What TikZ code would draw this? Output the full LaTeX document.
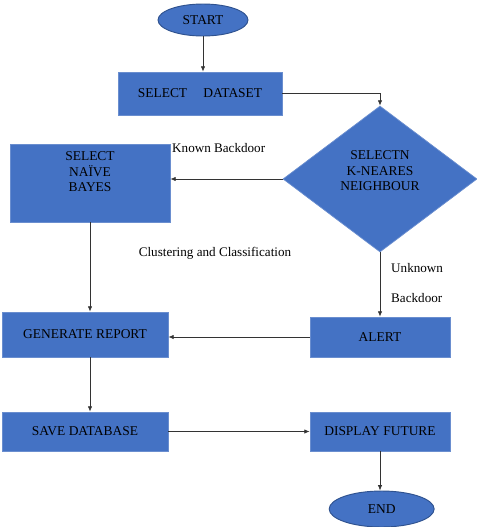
\documentclass[tikz,border=0pt]{standalone}
\usepackage{fontspec}
\setmainfont{Liberation Serif}
\usepackage{xcolor}
\usepackage{tikz}
\usetikzlibrary{arrows.meta,positioning,shapes}

\definecolor{boxfill}{HTML}{4472C4}
\definecolor{boxedge}{HTML}{6A8ECF}
\definecolor{ovaledge}{HTML}{2F528F}

\tikzset{
  procbox/.style={rectangle, fill=boxfill, draw=boxedge, line width=0.6pt, inner sep=0pt, align=center, font=\fontsize{11.5}{13.5}\selectfont},
  termbox/.style={ellipse, fill=boxfill, draw=ovaledge, line width=0.8pt, inner sep=0pt, font=\fontsize{11.5}{13.5}\selectfont},
  decbox/.style={diamond, fill=boxfill, draw=boxedge, line width=0.6pt, inner sep=0pt},
  boxtext/.style={inner sep=0pt, align=center, font=\fontsize{11.5}{13.3}\selectfont},
  note/.style={inner sep=0pt, font=\fontsize{11.2}{13}\selectfont},
  flow/.style={draw=black!80, line width=0.6pt, -{Latex[length=1.6mm,width=1.3mm]}}
}

\begin{document}
\begin{tikzpicture}
\useasboundingbox (0, 0) rectangle (14.31, -15.81);
\node[termbox, minimum width=2.7cm, minimum height=0.96cm] (start) at (6.09, -0.6) {START};
\node[procbox, minimum width=4.92cm, minimum height=1.29cm] (dataset) at (6.0, -2.805) {SELECT\hspace{1.2em}DATASET};
\node[decbox, minimum width=5.82cm, minimum height=4.38cm] (knn) at (11.4, -5.37) {};
\node[boxtext, above=0.24cm of knn.center, anchor=center] (knntxt) {SELECTN\\K-NEARES\\NEIGHBOUR};
\node[procbox, minimum width=4.8cm, minimum height=2.34cm] (naive) at (2.7, -5.49) {};
\node[boxtext, below=0.24cm of naive.north] (naivetxt) {SELECT\\NAÏVE\\BAYES};
\node[procbox, minimum width=4.98cm, minimum height=1.35cm] (report) at (2.55, -10.035) {GENERATE REPORT};
\node[procbox, minimum width=4.2cm, minimum height=1.2cm] (alert) at (11.4, -10.11) {ALERT};
\node[procbox, minimum width=4.98cm, minimum height=1.17cm] (savedb) at (2.55, -12.945) {SAVE DATABASE};
\node[procbox, minimum width=4.2cm, minimum height=1.17cm] (display) at (11.4, -12.945) {DISPLAY FUTURE};
\node[termbox, minimum width=3.15cm, minimum height=1.08cm] (end) at (11.45, -15.27) {END};

\node[note, anchor=west] (known) at (5.16, -4.44) {Known Backdoor};
\node[note] (cluster) at (6.45, -7.59) {Clustering and Classification};
\node[note, anchor=west] (unknown) at (11.73, -8.04) {Unknown};
\node[note, anchor=west] (backdoor) at (11.73, -8.94) {Backdoor};

\draw[flow] (start) -- (start |- dataset.north);
\draw[flow] (dataset.east) -| (knn.north);
\draw[flow] (knn.west) -- (knn.west -| naive.east);
\draw[flow] (naive.south) -- (naive.south |- report.north);
\draw[flow] (knn.south) -- (alert.north);
\draw[flow] (alert.west) -- (alert.west -| report.east);
\draw[flow] (naive.south |- report.south) -- (naive.south |- savedb.north);
\draw[flow] (savedb.east) -- (display.west);
\draw[flow] (display.south) -- (display.south |- end.north);
\end{tikzpicture}
\end{document}
